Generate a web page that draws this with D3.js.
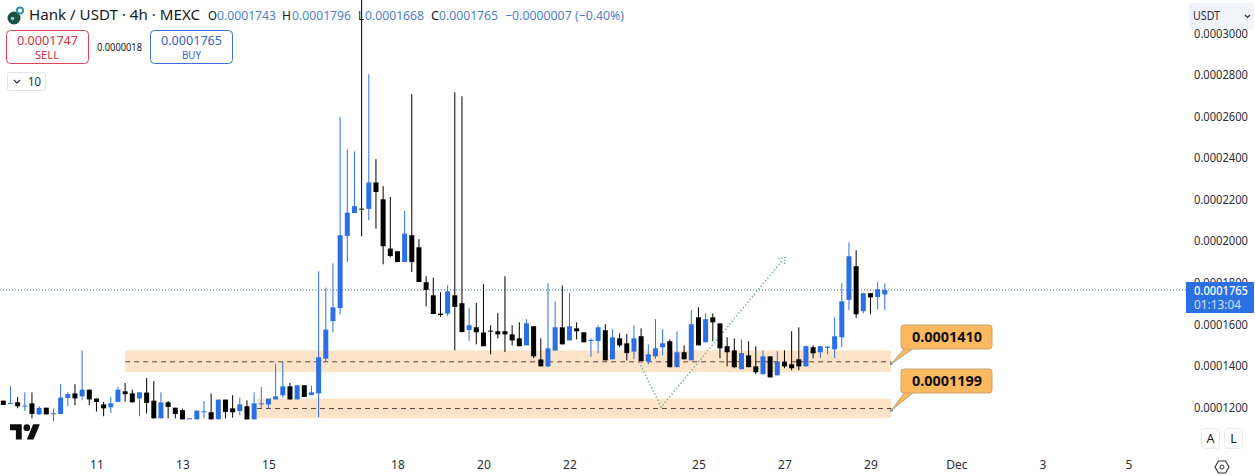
<!DOCTYPE html>
<html>
<head>
<meta charset="utf-8">
<title>Hank / USDT</title>
<script src="https://cdn.jsdelivr.net/npm/d3@7"></script>
<style>
    html, body { margin: 0; padding: 0; background: #fff; overflow: hidden; }
    text { font-family: "Noto Sans", sans-serif; }
</style>
</head>
<body>
<div id="chart"></div>
<script>
// prices are in units of 0.0000001
var opens = [1232, 1218, 1224, 1206, 1219, 1166, 1198, 1170, 1168, 1245, 1267, 1253, 1285, 1242, 1214, 1200, 1226, 1277, 1267, 1243,
    1271, 1232, 1147, 1224, 1198, 1186, 1144, 1142, 1178, 1176, 1142, 1237, 1195, 1182, 1205, 1142, 1216, 1214, 1238, 1258,
    1301, 1238, 1306, 1259, 1267, 1434, 1615, 1678, 2025, 2135, 2156, 2155, 2282, 2201, 1964, 1951, 1899, 2028, 1970, 1802,
    1739, 1651, 1651, 1739, 1701, 1572, 1585, 1560, 1569, 1566, 1566, 1551, 1532, 1498, 1590, 1430, 1397, 1473, 1585, 1522,
    1580, 1561, 1520, 1519, 1571, 1431, 1532, 1508, 1468, 1542, 1421, 1445, 1489, 1518, 1393, 1465, 1426, 1633, 1513, 1633,
    1604, 1494, 1474, 1383, 1450, 1397, 1359, 1445, 1354, 1417, 1407, 1431, 1397, 1489, 1465, 1486, 1479, 1537, 1717, 1879,
    1663, 1749, 1731, 1743];
var highs = [1232, 1301, 1250, 1272, 1272, 1205, 1198, 1194, 1311, 1274, 1311, 1474, 1285, 1242, 1226, 1250, 1298, 1317, 1285, 1272,
    1341, 1327, 1272, 1230, 1198, 1194, 1147, 1184, 1230, 1266, 1237, 1237, 1258, 1247, 1234, 1271, 1298, 1242, 1410, 1418,
    1317, 1306, 1306, 1304, 1855, 1776, 1893, 2597, 2442, 2432, 3200, 2803, 2394, 2264, 2212, 1951, 2145, 2707, 2009, 1831,
    1824, 1754, 1787, 2716, 2697, 1678, 1702, 1792, 1595, 1654, 1831, 1595, 1609, 1624, 1590, 1532, 1797, 1710, 1786, 1749,
    1609, 1561, 1532, 1595, 1600, 1577, 1556, 1553, 1595, 1580, 1503, 1624, 1576, 1527, 1566, 1498, 1667, 1681, 1652, 1652,
    1604, 1537, 1532, 1527, 1518, 1494, 1474, 1445, 1470, 1474, 1566, 1585, 1498, 1498, 1494, 1494, 1633, 1797, 1994, 1956,
    1749, 1749, 1802, 1796];
var lows = [1211, 1218, 1195, 1182, 1147, 1163, 1166, 1134, 1168, 1205, 1210, 1234, 1210, 1179, 1157, 1173, 1226, 1227, 1224, 1157,
    1170, 1147, 1147, 1147, 1147, 1142, 1144, 1142, 1147, 1142, 1142, 1147, 1150, 1161, 1142, 1142, 1195, 1194, 1238, 1247,
    1238, 1238, 1250, 1259, 1152, 1418, 1562, 1648, 1899, 2135, 2023, 2100, 2060, 1888, 1922, 1899, 1899, 1851, 1803, 1686,
    1649, 1635, 1638, 1474, 1562, 1519, 1503, 1494, 1455, 1532, 1466, 1498, 1494, 1498, 1437, 1397, 1393, 1473, 1503, 1522,
    1527, 1513, 1442, 1460, 1426, 1431, 1489, 1426, 1431, 1423, 1407, 1433, 1450, 1393, 1393, 1431, 1426, 1498, 1513, 1518,
    1436, 1397, 1388, 1383, 1393, 1359, 1359, 1344, 1354, 1388, 1378, 1378, 1397, 1436, 1436, 1455, 1436, 1489, 1667, 1630,
    1652, 1648, 1672, 1668];
var closes = [1211, 1221, 1205, 1208, 1168, 1197, 1166, 1171, 1247, 1263, 1243, 1285, 1238, 1226, 1195, 1219, 1285, 1263, 1224, 1272,
    1221, 1147, 1224, 1202, 1168, 1142, 1147, 1184, 1181, 1142, 1237, 1178, 1176, 1214, 1142, 1219, 1219, 1242, 1253, 1301,
    1238, 1306, 1250, 1272, 1441, 1574, 1681, 2028, 2137, 2168, 2153, 2282, 2236, 1975, 1928, 1899, 2036, 1899, 1803, 1765,
    1649, 1644, 1758, 1683, 1562, 1595, 1561, 1494, 1567, 1551, 1551, 1522, 1494, 1604, 1445, 1397, 1484, 1585, 1503, 1590,
    1566, 1513, 1524, 1585, 1426, 1537, 1498, 1461, 1532, 1423, 1455, 1484, 1508, 1393, 1465, 1431, 1600, 1498, 1624, 1609,
    1484, 1465, 1393, 1461, 1393, 1369, 1445, 1344, 1421, 1397, 1388, 1397, 1494, 1460, 1494, 1492, 1542, 1710, 1927, 1648,
    1749, 1729, 1768, 1765];

var priceTicks = [1200, 1400, 1600, 1800, 2000, 2200, 2400, 2600, 2800, 3000];
var dateTicks = [13, 25, 37, 55, 67, 79, 97, 109, 121, 133, 145, 157]; // candle index of each label
var dateLabels = ['11', '13', '15', '18', '20', '22', '25', '27', '29', 'Dec', '3', '5'];

var zoneStarts = [17, 35.4];
var zoneEnd = 123.9;
var zoneTops = [1474, 1242];
var zoneBottoms = [1369, 1148];
var zoneLines = [1419, 1194];
var zoneLabels = ['0.0001410', '0.0001199'];

var pathIndex = [88.7, 91.8, 108.8];
var pathPrice = [1418, 1201, 1911];

var lastPrice = 1765;

var BLUE = '#2b6fe4';
var W = 1255, H = 476;

var x = d3.scaleLinear().domain([0, 123]).range([3.3, 884.8]);
var y = d3.scaleLinear().domain([1200, 3000]).range([407.3, 33.3]);
var fmt = d => (d / 1e7).toFixed(7);

var svg = d3.select('#chart').append('svg')
    .attr('width', W)
    .attr('height', H)
    .style('display', 'block');

// squeezed text, the picture's font is narrower than what is installed
function label(px, py, str, size, color, width, weight) {
    var t = svg.append('text')
        .attr('x', px)
        .attr('y', py)
        .attr('font-size', size)
        .attr('fill', color)
        .attr('font-weight', weight || 400)
        .text(str);
    if (width) t.attr('textLength', width).attr('lengthAdjust', 'spacingAndGlyphs');
    return t;
}

// support zones
var zones = svg.append('g');
zoneLines.forEach((d, i) => {
    zones.append('rect')
        .attr('x', x(zoneStarts[i]))
        .attr('y', y(zoneTops[i]))
        .attr('width', x(zoneEnd) - x(zoneStarts[i]))
        .attr('height', y(zoneBottoms[i]) - y(zoneTops[i]))
        .attr('fill', '#fde4c8');
    zones.append('line')
        .attr('x1', x(zoneStarts[i]))
        .attr('x2', x(zoneEnd))
        .attr('y1', y(d))
        .attr('y2', y(d))
        .attr('stroke', '#6e3b3b')
        .attr('stroke-width', 1)
        .attr('stroke-dasharray', '5 4');
});

// last price line
svg.append('line')
    .attr('x1', 0)
    .attr('x2', 1186)
    .attr('y1', y(lastPrice))
    .attr('y2', y(lastPrice))
    .attr('stroke', '#2f6fb5')
    .attr('stroke-width', 1)
    .attr('stroke-dasharray', '1 2');

// dotted projection path, sits behind the candles
var pathLine = d3.line()
    .x((d, i) => x(pathIndex[i]))
    .y(d => y(d));
svg.append('path')
    .attr('d', pathLine(pathPrice))
    .attr('fill', 'none')
    .attr('stroke', '#7db59a')
    .attr('stroke-width', 1.5)
    .attr('stroke-dasharray', '1.5 2');
var tipX = x(pathIndex[2]), tipY = y(pathPrice[2]);
svg.append('path')
    .attr('d', 'M' + (tipX - 5) + ',' + (tipY - 1) + 'L' + (tipX + 2) + ',' + (tipY - 2) + 'L' + (tipX + 1.5) + ',' + (tipY + 5))
    .attr('fill', 'none')
    .attr('stroke', '#7db59a')
    .attr('stroke-width', 1.3)
    .attr('stroke-dasharray', '1.5 1.5');

// candles
var candles = svg.append('g').selectAll('g')
    .data(opens)
    .enter().append('g')
    .attr('fill', (d, i) => closes[i] >= d ? BLUE : '#000')
    .attr('stroke', (d, i) => closes[i] >= d ? BLUE : '#000');
candles.append('line')
    .attr('x1', (d, i) => x(i))
    .attr('x2', (d, i) => x(i))
    .attr('y1', (d, i) => y(highs[i]))
    .attr('y2', (d, i) => y(lows[i]))
    .attr('stroke-width', 1);
candles.append('rect')
    .attr('x', (d, i) => x(i) - 2.5)
    .attr('width', 5)
    .attr('y', (d, i) => y(Math.max(d, closes[i])))
    .attr('height', (d, i) => Math.max(1, Math.abs(y(d) - y(closes[i]))))
    .attr('stroke', 'none');

// callouts
zoneLabels.forEach((d, i) => {
    var boxY = 325 + i * 44;
    var tipPy = y(zoneLines[i]) + 2;
    svg.append('path')
        .attr('d', 'M' + x(zoneEnd) + ',' + tipPy + 'L905,' + (boxY + 23) + 'L914,' + (boxY + 23) + 'Z')
        .attr('fill', '#fdb95f')
        .attr('stroke', '#b3a07c')
        .attr('stroke-width', 1);
    svg.append('circle')
        .attr('cx', x(zoneEnd))
        .attr('cy', tipPy)
        .attr('r', 1.5)
        .attr('fill', '#8b95a0');
    svg.append('rect')
        .attr('x', 901)
        .attr('y', boxY)
        .attr('width', 91)
        .attr('height', 24)
        .attr('rx', 3)
        .attr('fill', '#fdb95f')
        .attr('stroke', '#c9a36e')
        .attr('stroke-width', 1);
    label(912, boxY + 17, d, 13.5, '#111', 70, 700);
});

// axes
var yAxis = d3.axisRight(y)
    .tickValues(priceTicks)
    .tickSize(0)
    .tickPadding(0)
    .tickFormat(fmt);
var yg = svg.append('g')
    .attr('transform', 'translate(1194,0)')
    .call(yAxis);
yg.select('.domain').remove();
yg.selectAll('text')
    .attr('font-size', 12)
    .attr('fill', '#2a2e39')
    .attr('textLength', 54)
    .attr('lengthAdjust', 'spacingAndGlyphs');

var xAxis = d3.axisBottom(x)
    .tickValues(dateTicks)
    .tickSize(0)
    .tickPadding(0)
    .tickFormat((d, i) => dateLabels[i]);
var xg = svg.append('g')
    .attr('transform', 'translate(0,460)')
    .call(xAxis);
xg.select('.domain').remove();
xg.selectAll('text')
    .attr('font-size', 12)
    .attr('fill', '#2a2e39');

// price tag on the axis, covers most of the 0.0001800 label as in the picture
svg.append('rect')
    .attr('x', 1186)
    .attr('y', 282)
    .attr('width', 68)
    .attr('height', 31)
    .attr('fill', BLUE);
label(1194, 295, fmt(lastPrice), 12, '#fff', 54, 500);
label(1194, 309, '01:13:04', 12, '#d5e2fa', 47);

// currency picker, cuts the top of the 0.0003000 label
svg.append('rect')
    .attr('x', 1189)
    .attr('y', 3)
    .attr('width', 65)
    .attr('height', 26)
    .attr('rx', 3)
    .attr('fill', '#f0f3fa');
label(1193, 20, 'USDT', 12, '#2a2e39', 27);
svg.append('path')
    .attr('d', 'M1245,15l2.5,2.5l2.5,-2.5')
    .attr('fill', 'none')
    .attr('stroke', '#2a2e39')
    .attr('stroke-width', 1.2);

// header
svg.append('circle').attr('cx', 14).attr('cy', 18).attr('r', 6.5).attr('fill', '#1d4f45');
svg.append('circle').attr('cx', 12.5).attr('cy', 18.5).attr('r', 1.8).attr('fill', '#8fd0c0');
svg.append('circle').attr('cx', 20).attr('cy', 10.5).attr('r', 3).attr('fill', 'none').attr('stroke', '#2d8fa8').attr('stroke-width', 2);

var VAL = '#4d7fd0';
label(29, 20, 'Hank / USDT · 4h · MEXC', 14, '#131722', 171);
label(208, 19.5, 'O', 12.5, '#131722', 9);
label(217, 19.5, '0.0001743', 12.5, VAL, 59);
label(282, 19.5, 'H', 12.5, '#131722', 9);
label(292, 19.5, '0.0001796', 12.5, VAL, 59);
label(358, 19.5, 'L', 12.5, '#131722', 6);
label(365, 19.5, '0.0001668', 12.5, VAL, 59);
label(431, 19.5, 'C', 12.5, '#131722', 8);
label(439, 19.5, '0.0001765', 12.5, VAL, 59);
label(505, 19.5, '−0.0000007 (−0.40%)', 12.5, VAL, 119);

// sell and buy buttons
svg.append('rect').attr('x', 6.5).attr('y', 30.5).attr('width', 82).attr('height', 33).attr('rx', 4)
    .attr('fill', '#fff').attr('stroke', '#e0414f');
label(17, 45, '0.0001747', 12.5, '#d9303f', 61);
label(35, 59, 'SELL', 10.5, '#d9303f', 24);
label(97, 51, '0.0000018', 10.5, '#131722', 45);
svg.append('rect').attr('x', 150.5).attr('y', 30.5).attr('width', 82).attr('height', 33).attr('rx', 4)
    .attr('fill', '#fff').attr('stroke', '#3a70d8');
label(161, 45, '0.0001765', 12.5, '#3566c8', 61);
label(182, 59, 'BUY', 10.5, '#3566c8', 19);

// quantity box
svg.append('rect').attr('x', 7.5).attr('y', 72.5).attr('width', 38).attr('height', 18).attr('rx', 2)
    .attr('fill', '#fff').attr('stroke', '#e0e3eb');
svg.append('path').attr('d', 'M14,80l3,3l3,-3').attr('fill', 'none').attr('stroke', '#2a2e39').attr('stroke-width', 1.1);
label(28, 86, '10', 12.5, '#2a2e39', 13);

// tradingview mark
var logo = svg.append('g').attr('transform', 'translate(10,421) scale(.84)').attr('fill', '#0b0b0b');
logo.append('path').attr('d', 'M14 22H7V11H0V4h14v18zM28 22h-8l7.5-18h8L28 22z');
logo.append('circle').attr('cx', 20).attr('cy', 8).attr('r', 4);

// scale buttons
[['A', 1201], ['L', 1224]].forEach(d => {
    svg.append('rect').attr('x', d[1] + .5).attr('y', 428.5).attr('width', 18).attr('height', 20).attr('rx', 3)
        .attr('fill', '#fff').attr('stroke', '#e8eaf0');
    label(d[1] + 9.5, 443, d[0], 12.5, '#131722').attr('text-anchor', 'middle');
});

// settings icon
svg.append('path')
    .attr('d', 'M1215,467l3.5,-6h7l3.5,6l-3.5,6h-7z')
    .attr('fill', 'none')
    .attr('stroke', '#2a2e39')
    .attr('stroke-width', 1.1);
svg.append('circle').attr('cx', 1222).attr('cy', 467).attr('r', 2)
    .attr('fill', 'none').attr('stroke', '#2a2e39');
</script>
</body>
</html>
